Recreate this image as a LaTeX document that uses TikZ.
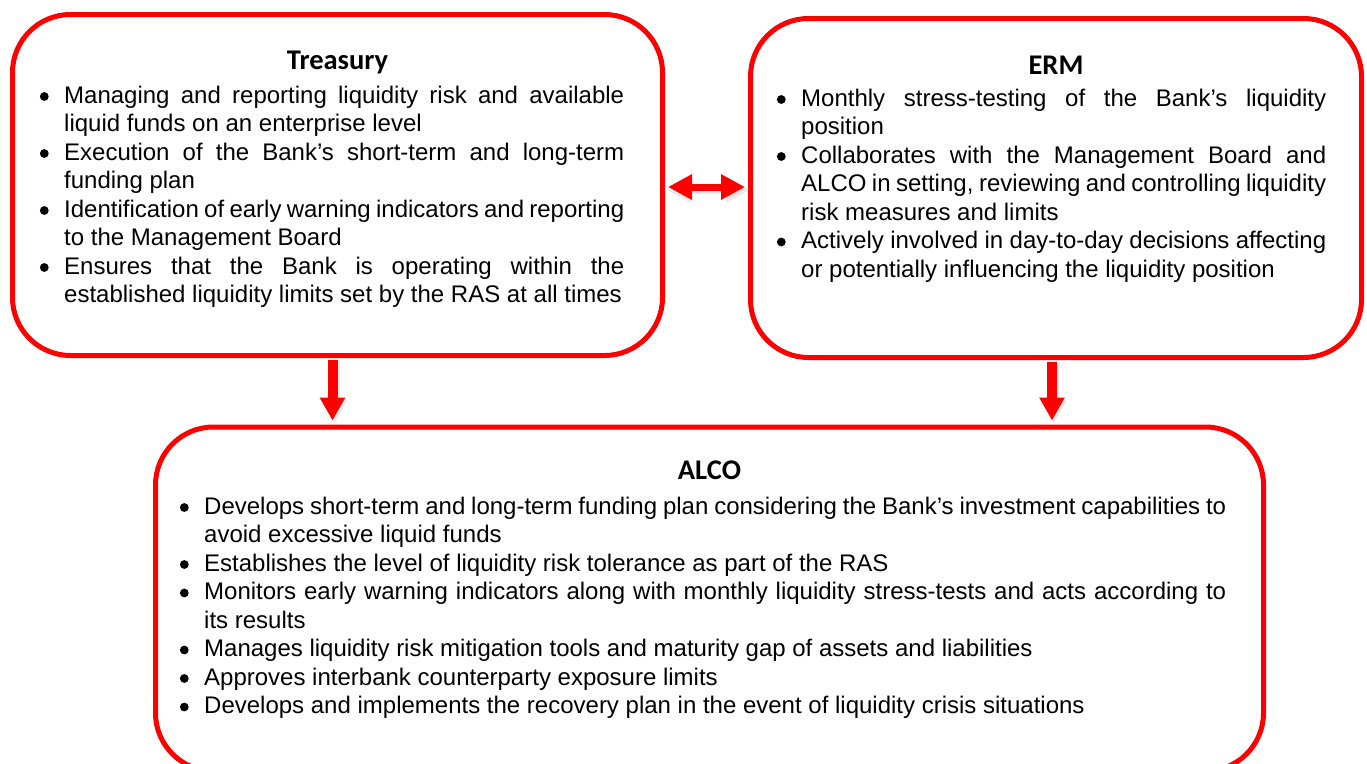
\documentclass[tikz,border=0pt]{standalone}
\usepackage{fontspec}
\setmainfont{Liberation Sans}
\newfontfamily\headfont{Carlito}
\usetikzlibrary{positioning, arrows.meta}

% bullet list used inside the boxes
\newcommand{\dutydot}{\tikz[baseline=-6.5pt]\fill (0pt,0pt) circle (4.4pt);}
\newenvironment{duties}
  {\begin{list}{\dutydot}{%
     \setlength{\leftmargin}{24pt}%
     \setlength{\labelwidth}{10pt}%
     \setlength{\labelsep}{15.5pt}%
     \setlength{\itemsep}{0pt}%
     \setlength{\parsep}{0pt}%
     \setlength{\topsep}{0pt}%
     \setlength{\partopsep}{0pt}}}
  {\end{list}}

\begin{document}
\begin{tikzpicture} [ x=1pt
                    , y=-1pt
                    , font=\fontsize{24}{28.5}\selectfont
                    , panel/.style={draw=red, line width=5pt, rounded corners=58pt}
                    , head/.style={inner sep=0pt, anchor=base, font=\headfont\bfseries\fontsize{28.5}{30}\selectfont}
                    , body/.style={inner sep=0pt, anchor=base west, align=justify}
                    , flow/.style={red, line width=10pt, -{Triangle[width=24pt, length=23pt]}}
                    , link/.style={red, line width=7pt, {Triangle[width=24pt, length=24pt]}-{Triangle[width=24pt, length=24pt]}}
                    , haze/.style={black!35, opacity=0.25, transform canvas={shift={(2pt,-3pt)}}}
                    ]
  \hyphenpenalty=10000
  \useasboundingbox (0,0) rectangle (1367,763);

  % --- Boxes -----------------------------------------------------------------
  \node [ panel
        , minimum width=650pt
        , minimum height=341pt
        ]
        (treasury) at (337.5,185) {};

  \node [ panel
        , minimum width=611pt
        , minimum height=339pt
        ]
        (erm) at (1056,188) {};

  \node [ panel
        , minimum width=1108pt
        , minimum height=344pt
        ]
        (alco) at (709.5,599) {};
  % ---------------------------------------------------------------------------

  % --- Titles ----------------------------------------------------------------
  \node [head] (treasuryTitle) at (treasury.center |- 0,69)  {Treasury};
  \node [head] (ermTitle)      at (erm.center |- 0,74)       {ERM};
  \node [head] (alcoTitle)     at (alco.center |- 0,479)     {ALCO};
  % ---------------------------------------------------------------------------

  % --- Texts -----------------------------------------------------------------
  \node [ body
        , text width=584pt
        ]
        (treasuryText) at (40,74.5)
        {\begin{duties}
           \item Managing and reporting liquidity risk and available liquid funds on an enterprise level
           \item Execution of the Bank’s short-term and long-term funding plan
           \item Identification of early warning indicators and reporting to the Management Board
           \item Ensures that the Bank is operating within the established liquidity limits set by the RAS at all times
         \end{duties}};

  \node [ body
        , text width=549pt
        ]
        (ermText) at (777,77.5)
        {\begin{duties}
           \item Monthly stress-testing of the Bank’s liquidity position
           \item Collaborates with the Management Board and ALCO in setting, reviewing and controlling liquidity risk measures and limits
           \item Actively involved in day-to-day decisions affecting or potentially influencing the liquidity position
         \end{duties}};

  \node [ body
        , text width=1046pt
        ]
        (alcoText) at (180,485.5)
        {\begin{duties}
           \item Develops short-term and long-term funding plan considering the Bank’s investment capabilities to avoid excessive liquid funds
           \item Establishes the level of liquidity risk tolerance as part of the RAS
           \item Monitors early warning indicators along with monthly liquidity stress-tests and acts according to its results
           \item Manages liquidity risk mitigation tools and maturity gap of assets and liabilities
           \item Approves interbank counterparty exposure limits
           \item Develops and implements the recovery plan in the event of liquidity crisis situations
         \end{duties}};
  % ---------------------------------------------------------------------------

  % --- Arrows ----------------------------------------------------------------
  \draw [flow, haze, shorten >=4pt] ([xshift=-5pt]treasury.south) -- ([xshift=-5pt]treasury.south |- alco.north);
  \draw [flow, haze, shorten >=4pt] ([xshift=-4pt]erm.south) -- ([xshift=-4pt]erm.south |- alco.north);
  \draw [link, haze] ([yshift=-2pt]treasury.east) -- ([yshift=-2pt]treasury.east -| erm.west);

  \draw [flow, shorten <=2pt, shorten >=4pt]
        ([xshift=-5pt]treasury.south) -- ([xshift=-5pt]treasury.south |- alco.north);
  \draw [flow, shorten <=2pt, shorten >=4pt]
        ([xshift=-4pt]erm.south) -- ([xshift=-4pt]erm.south |- alco.north);
  \draw [link, shorten <=3pt, shorten >=3pt]
        ([yshift=-2pt]treasury.east) -- ([yshift=-2pt]treasury.east -| erm.west);
  % ---------------------------------------------------------------------------
\end{tikzpicture}
\end{document}
